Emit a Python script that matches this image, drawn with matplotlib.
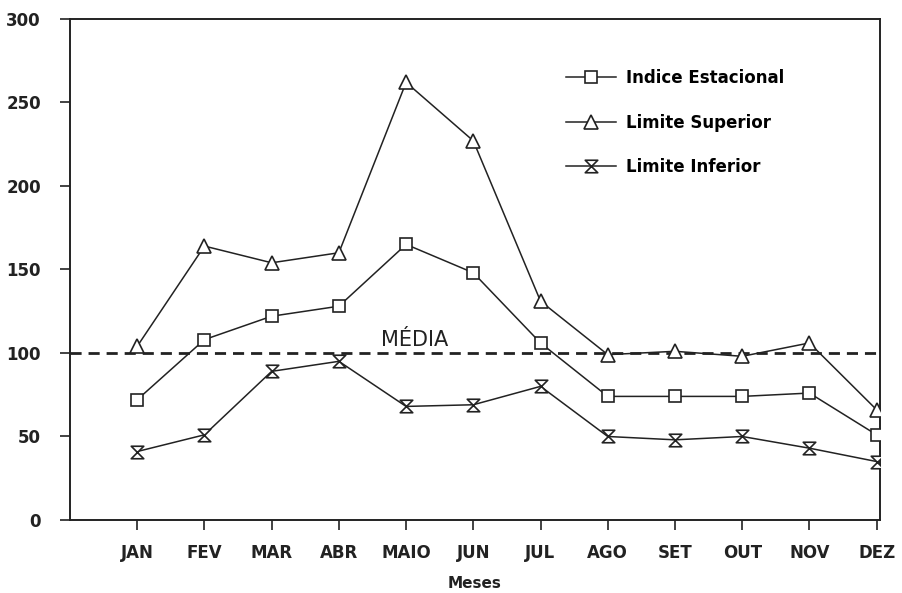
import matplotlib.pyplot as plt
from matplotlib.path import Path

# dados
meses = ["JAN", "FEV", "MAR", "ABR", "MAIO", "JUN", "JUL", "AGO", "SET", "OUT", "NOV", "DEZ"]
indice = [72, 108, 122, 128, 165, 148, 106, 74, 74, 74, 76, 51]
lim_sup = [104, 164, 154, 160, 262, 227, 131, 99, 101, 98, 106, 66]
lim_inf = [41, 51, 89, 95, 68, 69, 80, 50, 48, 50, 43, 35]
media = 100

# marcador "ampulheta" do limite inferior
hourglass = Path([(-1, 1), (1, 1), (-1, -1), (1, -1), (-1, 1)],
                 [Path.MOVETO, Path.LINETO, Path.LINETO, Path.LINETO, Path.CLOSEPOLY])

plt.rcParams['font.family'] = ['DejaVu Sans']
plt.rcParams['font.weight'] = 'bold'

fig = plt.figure(figsize=(9.02, 5.93), dpi=100)
ax = fig.add_axes([0.0776, 0.1231, 0.898, 0.845])

x = list(range(1, len(meses) + 1))
c = '#222222'
ax.plot(x, indice, color=c, lw=1.1, marker='s', ms=9, mfc='white', mec=c, mew=1.2,
        label='Indice Estacional', zorder=3)
ax.plot(x, lim_sup, color=c, lw=1.1, marker='^', ms=10, mfc='white', mec=c, mew=1.2,
        label='Limite Superior', zorder=3)
ax.plot(x, lim_inf, color=c, lw=1.1, marker=hourglass, ms=9, mfc='white', mec=c, mew=1.2,
        label='Limite Inferior', zorder=3)
ax.axhline(media, color=c, lw=2, ls=(0, (4, 2.5)), zorder=2)
ax.text(5.13, 102, "MÉDIA", ha='center', va='bottom', fontsize=15, weight='normal', color=c)

ax.set_xlim(0, 12.05)
ax.set_ylim(0, 300)
ax.set_xticks(x)
ax.set_xticklabels(meses, fontsize=12, color=c)
ax.set_yticks(range(0, 301, 50))
ax.tick_params(axis='y', labelsize=12, length=7, width=1.2, colors=c, pad=14)
ax.tick_params(axis='x', length=7, width=1.2, colors=c, pad=10)
for s in ax.spines.values():
    s.set_linewidth(1.4)
    s.set_color(c)
ax.set_xlabel("Meses", fontsize=11, color=c, labelpad=10, weight='bold')

ax.legend(loc='upper left', bbox_to_anchor=(0.594, 0.93), frameon=False,
          handlelength=3.0, labelspacing=1.6, handletextpad=0.6,
          prop={'size': 12, 'weight': 'bold'})

fig.savefig("out.png", dpi=100)
